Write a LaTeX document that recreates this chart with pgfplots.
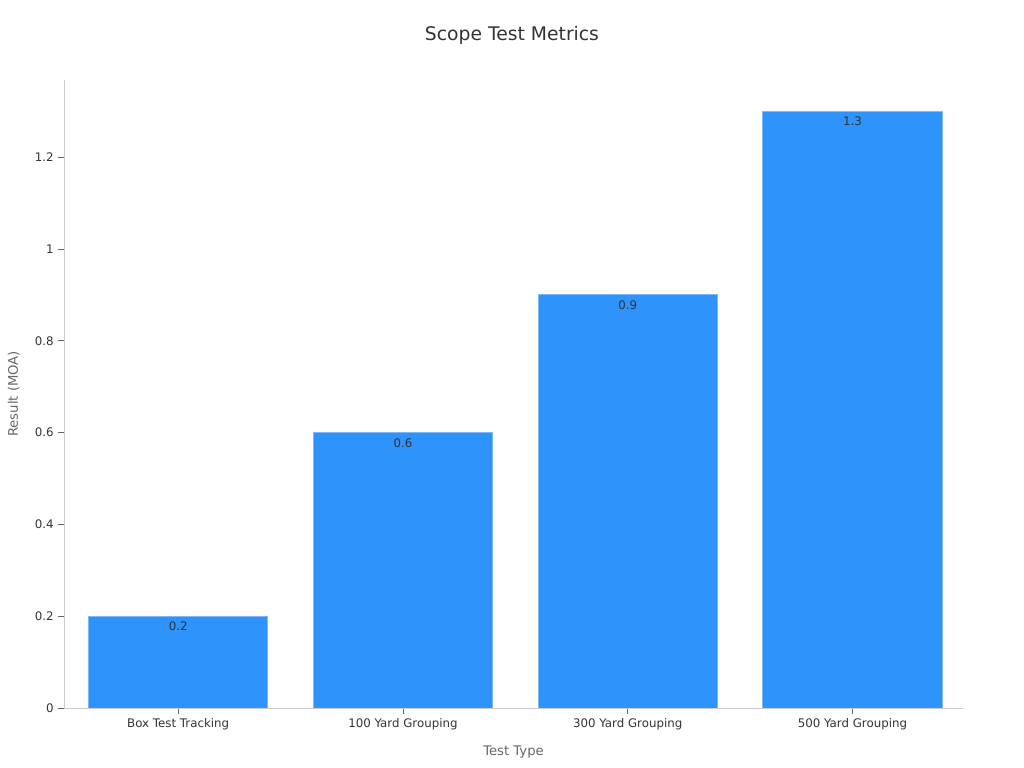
\documentclass[border=0pt]{standalone}
\usepackage{fontspec}
\setmainfont{DejaVu Sans}
\usepackage{pgfplots}
\pgfplotsset{compat=1.18}
\definecolor{barblue}{HTML}{2E93FA}
\definecolor{baredge}{HTML}{7DB9F7}
\definecolor{axisgray}{HTML}{CCCCCC}
\definecolor{ticktext}{HTML}{333333}
\definecolor{labeltext}{HTML}{666666}
\begin{document}
\begin{tikzpicture}
\useasboundingbox (0pt,0pt) rectangle (737.28pt,552.96pt);
\node[font=\fontsize{13.5}{16}\selectfont, text=ticktext] at (368.64pt,527.8pt) {Scope Test Metrics};
\begin{axis}[
    at={(46.08pt,43.2pt)}, anchor=south west,
    scale only axis,
    width=647.28pt, height=452.16pt,
    xmin=-0.508, xmax=3.492,
    ymin=0, ymax=1.368,
    axis lines*=left,
    axis line style={axisgray},
    xtick={0,1,2,3},
    xticklabels={Box Test Tracking,100 Yard Grouping,300 Yard Grouping,500 Yard Grouping},
    ytick={0,0.2,0.4,0.6,0.8,1,1.2},
    yticklabels={0,0.2,0.4,0.6,0.8,1,1.2},
    tick style={labeltext, line width=0.6pt},
    tick align=outside,
    major tick length=4pt,
    ticklabel style={font=\fontsize{8.5}{10}\selectfont, text=ticktext},
    xlabel={Test Type},
    ylabel={Result (MOA)},
    label style={font=\fontsize{9.5}{11}\selectfont, text=labeltext},
    xlabel style={yshift=-4.5pt},
    ylabel style={yshift=4pt},
    ybar, bar width=128.9pt,
    nodes near coords,
    every node near coord/.append style={anchor=north, yshift=-0.5pt, font=\fontsize{8.5}{10}\selectfont, text=ticktext},
    point meta=explicit symbolic,
]
\addplot[fill=barblue, draw=baredge, line width=0.6pt] coordinates {
    (0,0.2) [0.2]
    (1,0.6) [0.6]
    (2,0.9) [0.9]
    (3,1.3) [1.3]
};
\end{axis}
\end{tikzpicture}
\end{document}
